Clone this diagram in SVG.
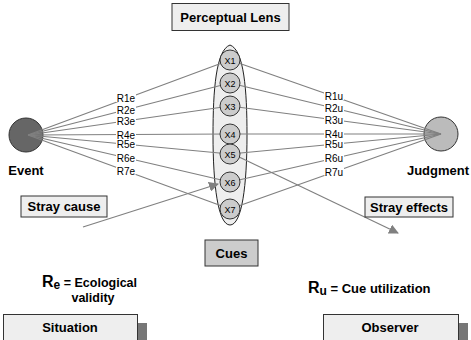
<svg xmlns="http://www.w3.org/2000/svg" width="471" height="340" viewBox="0 0 471 340">
<style>
  text { font-family: "Liberation Sans", Arial, sans-serif; fill: #000; }
  .b { font-weight: bold; font-size: 13px; text-anchor: middle; }
  .box { fill: #eeeeee; stroke: #333; stroke-width: 1; }
  .ln { stroke: #808080; stroke-width: 1.2; fill: none; }
  .cue { fill: #cccccc; stroke: #333; stroke-width: 1; }
  .cl { font-size: 9px; text-anchor: middle; }
  .rl { font-size: 10px; text-anchor: middle; }
  .lbg { fill: #fff; }
  .shadow { fill: #777; }
</style>
<defs>
  <marker id="ah" viewBox="0 0 10 10" refX="9" refY="5" markerWidth="10" markerHeight="10" markerUnits="userSpaceOnUse" orient="auto">
    <path d="M0,0 L10,5 L0,10 z" fill="#808080"/>
  </marker>
</defs>

<g id="perceptual-lens-title">
  <rect class="box" x="172" y="3.5" width="117" height="27"/>
  <text class="b" x="230.5" y="22">Perceptual Lens</text>
</g>

<g id="lens">
  <path d="M230,45 C244,50 247,90 247,135 C247,185 242,225 230,225 C218,225 213,185 213,135 C213,90 216,50 230,45 Z" fill="#eeeeee" stroke="#222" stroke-width="1"/>
</g>

<g id="event">
  <circle cx="26" cy="135" r="17" fill="#666666" stroke="#333" stroke-width="1"/>
  <text class="b" x="26" y="175">Event</text>
</g>

<g id="judgment">
  <circle cx="441" cy="134" r="17" fill="#bbbbbb" stroke="#333" stroke-width="1"/>
  <text class="b" x="438" y="175">Judgment</text>
</g>

<g id="connectors">
  <line class="ln" x1="28" y1="135" x2="230" y2="60"/>
  <line class="ln" x1="28" y1="135" x2="230" y2="83"/>
  <line class="ln" x1="28" y1="135" x2="230" y2="106"/>
  <line class="ln" x1="28" y1="135" x2="230" y2="134"/>
  <line class="ln" x1="28" y1="135" x2="230" y2="154"/>
  <line class="ln" x1="28" y1="135" x2="230" y2="182"/>
  <line class="ln" x1="28" y1="135" x2="230" y2="209"/>
  <line class="ln" x1="230" y1="60" x2="441" y2="134"/>
  <line class="ln" x1="230" y1="83" x2="441" y2="134"/>
  <line class="ln" x1="230" y1="106" x2="441" y2="134"/>
  <line class="ln" x1="230" y1="134" x2="441" y2="134"/>
  <line class="ln" x1="230" y1="154" x2="441" y2="134"/>
  <line class="ln" x1="230" y1="182" x2="441" y2="134"/>
  <line class="ln" x1="230" y1="209" x2="441" y2="134"/>
  <line class="ln" x1="83" y1="227" x2="218" y2="184" marker-end="url(#ah)"/>
  <line class="ln" x1="237" y1="156" x2="398" y2="233" marker-end="url(#ah)"/>
  <g id="re-labels">
    <rect class="lbg" x="116" y="94" width="20" height="8"/><text class="rl" x="126" y="102">R1e</text>
    <rect class="lbg" x="116" y="105.5" width="20" height="8"/><text class="rl" x="126" y="113.5">R2e</text>
    <rect class="lbg" x="116" y="116.5" width="20" height="8"/><text class="rl" x="126" y="124.5">R3e</text>
    <rect class="lbg" x="116" y="130.5" width="20" height="8"/><text class="rl" x="126" y="138.5">R4e</text>
    <rect class="lbg" x="116" y="140" width="20" height="8"/><text class="rl" x="126" y="148">R5e</text>
    <rect class="lbg" x="116" y="153.5" width="20" height="8"/><text class="rl" x="126" y="161.5">R6e</text>
    <rect class="lbg" x="116" y="166.5" width="20" height="8"/><text class="rl" x="126" y="174.5">R7e</text>
  </g>
  <g id="ru-labels">
    <rect class="lbg" x="324" y="92" width="20" height="8"/><text class="rl" x="334" y="100">R1u</text>
    <rect class="lbg" x="324" y="104" width="20" height="8"/><text class="rl" x="334" y="112">R2u</text>
    <rect class="lbg" x="324" y="115.5" width="20" height="8"/><text class="rl" x="334" y="123.5">R3u</text>
    <rect class="lbg" x="324" y="130" width="20" height="8"/><text class="rl" x="334" y="138">R4u</text>
    <rect class="lbg" x="324" y="140" width="20" height="8"/><text class="rl" x="334" y="148">R5u</text>
    <rect class="lbg" x="324" y="154" width="20" height="8"/><text class="rl" x="334" y="162">R6u</text>
    <rect class="lbg" x="324" y="167.5" width="20" height="8"/><text class="rl" x="334" y="175.5">R7u</text>
  </g>
</g>

<g id="cue-x1"><circle class="cue" cx="230" cy="60" r="10"/><text class="cl" x="230" y="63.5">X1</text></g>
<g id="cue-x2"><circle class="cue" cx="230" cy="83" r="10"/><text class="cl" x="230" y="86.5">X2</text></g>
<g id="cue-x3"><circle class="cue" cx="230" cy="106" r="10"/><text class="cl" x="230" y="109.5">X3</text></g>
<g id="cue-x4"><circle class="cue" cx="230" cy="134" r="10"/><text class="cl" x="230" y="137.5">X4</text></g>
<g id="cue-x5"><circle class="cue" cx="230" cy="154" r="10"/><text class="cl" x="230" y="157.5">X5</text></g>
<g id="cue-x6"><circle class="cue" cx="230" cy="182" r="10"/><text class="cl" x="230" y="185.5">X6</text></g>
<g id="cue-x7"><circle class="cue" cx="230" cy="209" r="10"/><text class="cl" x="230" y="212.5">X7</text></g>

<g id="stray-cause">
  <rect class="box" x="21" y="196" width="86" height="21"/>
  <text class="b" x="64" y="211">Stray cause</text>
</g>

<g id="stray-effects">
  <rect class="box" x="365" y="197" width="88" height="20"/>
  <text class="b" x="409" y="211.5">Stray effects</text>
</g>

<g id="cues">
  <rect x="205" y="240" width="53" height="26" fill="#cccccc" stroke="#333" stroke-width="1"/>
  <text class="b" x="231.5" y="258">Cues</text>
</g>

<g id="re-legend">
  <text x="42" y="287" font-weight="bold" font-size="16">R<tspan font-size="12" dy="2">e</tspan><tspan font-size="12.5" dy="-2"> = Ecological</tspan></text>
  <text class="b" x="93" y="302" style="font-size:12.5px">validity</text>
</g>

<g id="ru-legend">
  <text x="308" y="293" font-weight="bold" font-size="16">R<tspan font-size="12" dy="2">u</tspan><tspan font-size="13" dy="-2"> = Cue utilization</tspan></text>
</g>

<g id="situation">
  <rect class="shadow" x="137" y="323" width="10" height="17"/>
  <rect class="box" x="3.5" y="314.5" width="134" height="30"/>
  <text class="b" x="70" y="332">Situation</text>
</g>

<g id="observer">
  <rect class="shadow" x="458" y="323" width="10" height="17"/>
  <rect class="box" x="323.5" y="314.5" width="135" height="30"/>
  <text class="b" x="390" y="332">Observer</text>
</g>
</svg>
